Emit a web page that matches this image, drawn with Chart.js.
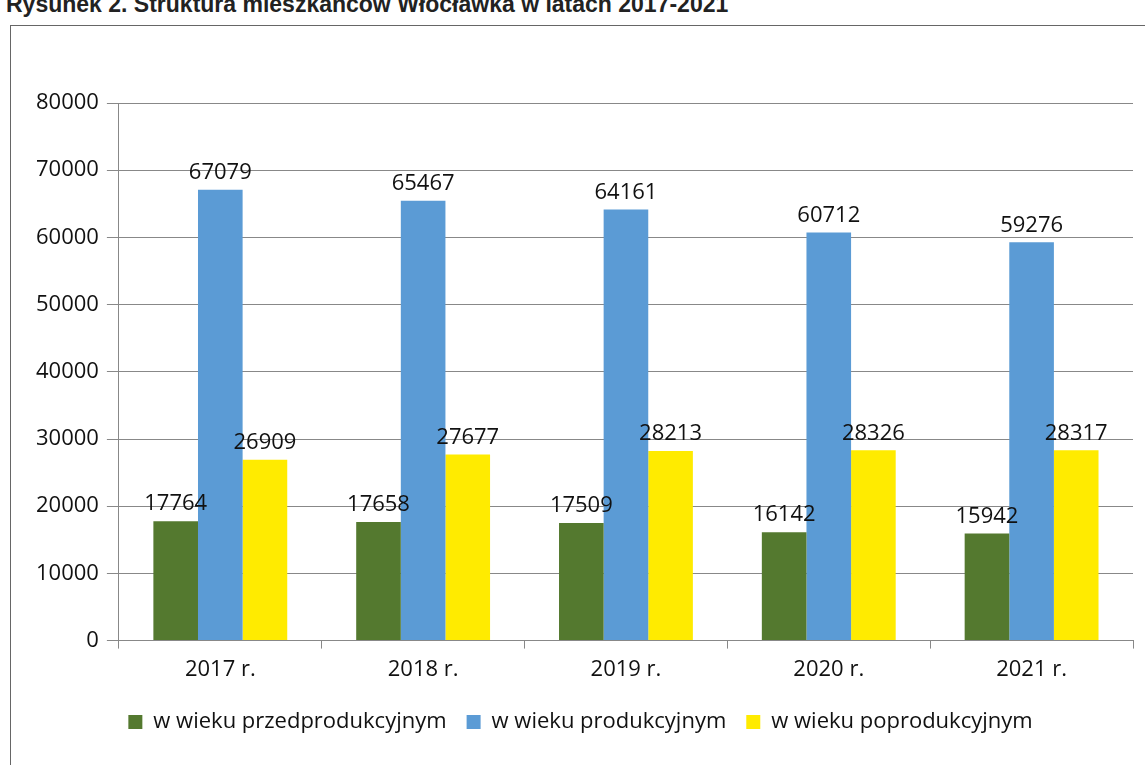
<!DOCTYPE html>
<html>
<head>
<meta charset="utf-8">
<script src="https://cdn.jsdelivr.net/npm/chart.js@4"></script>
<style>
  body { margin: 0; background: #fff; width: 1145px; height: 765px; overflow: hidden; position: relative; }
  #tytul { position: absolute; left: 6px; top: -9px; font: bold 23px "Liberation Sans", Arial, sans-serif; color: #222; white-space: nowrap; }
  #ramka { position: absolute; left: 10px; top: 25px; width: 1140px; height: 760px; border: 1px solid #666; box-sizing: border-box; }
  #wykres { position: absolute; left: 11px; top: 26px; width: 1134px; height: 739px; }
</style>
</head>
<body>
<div id="tytul">Rysunek 2. Struktura mieszkańców Włocławka w latach 2017-2021</div>
<div id="ramka"></div>
<div id="wykres"><canvas id="myChart"></canvas></div>
<script>
const lata = ["2017 r.", "2018 r.", "2019 r.", "2020 r.", "2021 r."];
const przedprodukcyjny = [17764, 17658, 17509, 16142, 15942];
const produkcyjny = [67079, 65467, 64161, 60712, 59276];
const poprodukcyjny = [26909, 27677, 28213, 28326, 28317];
const osY = [0, 10000, 20000, 30000, 40000, 50000, 60000, 70000, 80000];

const czcionka = "'Open Sans', 'Noto Sans', sans-serif";

// etykiety nad slupkami
const etykiety = {
	id: "etykiety",
	afterDatasetsDraw(chart) {
		const c = chart.ctx;
		c.save();
		c.font = "22px " + czcionka;
		c.fillStyle = "#111";
		c.textAlign = "center";
		c.textBaseline = "bottom";
		chart.data.datasets.forEach((ds, i) => {
			chart.getDatasetMeta(i).data.forEach((bar, j) => {
				c.fillText(ds.data[j], bar.x, bar.y - 6);
			});
		});
		c.restore();
	},
};

const ctx = document.getElementById("myChart");

let wykres = new Chart(ctx, {
	type: "bar",
	data: {
		labels: lata,
		datasets: [
			{
				label: "w wieku przedprodukcyjnym",
				data: przedprodukcyjny,
				backgroundColor: "#54792f",
			},
			{
				label: "w wieku produkcyjnym",
				data: produkcyjny,
				backgroundColor: "#5b9bd5",
			},
			{
				label: "w wieku poprodukcyjnym",
				data: poprodukcyjny,
				backgroundColor: "#ffeb00",
			},
		],
	},
	options: {
		responsive: true,
		maintainAspectRatio: false,
		animation: false,
		layout: { padding: { left: 17, right: 12, top: 77, bottom: 22 } },
		datasets: { bar: { barPercentage: 1, categoryPercentage: 0.66 } },
		plugins: {
			tooltip: { enabled: false },
			legend: {
				position: "bottom",
				labels: {
					font: { size: 22, family: czcionka },
					color: "#111",
					boxWidth: 14,
					boxHeight: 14,
					padding: 20,
				},
			},
		},
		scales: {
			x: {
				grid: { drawOnChartArea: false, color: "#888", tickLength: 8 },
				border: { color: "#888" },
				ticks: { font: { size: 22, family: czcionka }, color: "#111", padding: 8 },
			},
			y: {
				min: 0,
				max: 80000,
				afterBuildTicks: (axis) => { axis.ticks = osY.map((v) => ({ value: v })); },
				grid: { color: "#888", tickLength: 12 },
				border: { color: "#888" },
				ticks: {
					font: { size: 22, family: czcionka },
					color: "#111",
					padding: 8,
					callback: (v) => String(v),
				},
			},
		},
	},
	plugins: [etykiety],
});
</script>
</body>
</html>
